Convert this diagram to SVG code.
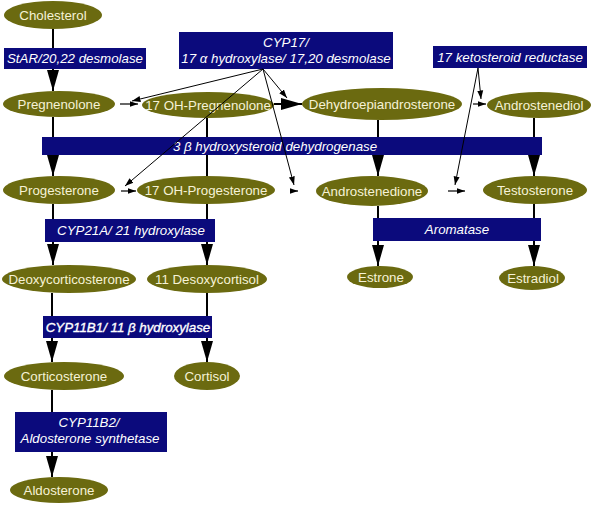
<svg xmlns="http://www.w3.org/2000/svg" width="593" height="526" viewBox="0 0 593 526">
<defs>
<style>
.n ellipse{fill:#6b6a10;}
.n text{font-family:"Liberation Sans",Arial,sans-serif;font-size:13.3px;fill:#f6f2d6;text-anchor:middle;}
.e rect{fill:#0b0a7c;}
.e text{font-family:"Liberation Sans",Arial,sans-serif;font-size:13.3px;font-style:italic;fill:#ffffff;text-anchor:middle;}
.c line{stroke:#000;stroke-width:2;fill:none;}
.c line.s{stroke-width:1.2;}
.c line.t{stroke-width:1;}
</style>
<marker id="big" markerUnits="userSpaceOnUse" markerWidth="22" markerHeight="14" viewBox="0 0 22 14" refX="21" refY="7" orient="auto"><path d="M0,1 L21,7 L0,13 z" fill="#000"/></marker>
<marker id="sm" markerUnits="userSpaceOnUse" markerWidth="9" markerHeight="8" viewBox="0 0 9 8" refX="8.5" refY="4" orient="auto"><path d="M0,1 L8.5,4 L0,7 z" fill="#000"/></marker>
</defs>
<rect width="593" height="526" fill="#fff"/>

<g id="enzymes" class="e">
<g id="e-star"><rect x="4" y="48" width="142" height="21"/><text x="75" y="63">StAR/20,22 desmolase</text></g>
<g id="e-cyp17"><rect x="179" y="32" width="214" height="37"/><text x="286" y="47">CYP17/</text><text x="286" y="63">17 α hydroxylase/ 17,20 desmolase</text></g>
<g id="e-17ksr"><rect x="433" y="46" width="154" height="22"/><text x="510" y="62">17 ketosteroid reductase</text></g>
<g id="e-3bhsd"><rect x="42" y="137" width="500" height="18"/><text x="275" y="151">3 β hydroxysteroid dehydrogenase</text></g>
<g id="e-cyp21"><rect x="45" y="219" width="170" height="23"/><text x="131" y="235">CYP21A/ 21 hydroxylase</text></g>
<g id="e-arom"><rect x="373" y="218" width="168" height="23"/><text x="457" y="234">Aromatase</text></g>
<g id="e-cyp11b1"><rect x="43" y="316" width="169" height="22"/><text x="128" y="332" font-size="14px" stroke="#ffffff" stroke-width="0.35">CYP11B1/ 11 β hydroxylase</text></g>
<g id="e-cyp11b2"><rect x="15" y="412" width="152" height="40"/><text x="89" y="427">CYP11B2/</text><text x="90" y="443">Aldosterone synthetase</text></g>
</g>

<g id="nodes" class="n">
<g id="cholesterol"><ellipse cx="53" cy="15" rx="49" ry="14"/><text x="53" y="20">Cholesterol</text></g>
<g id="pregnenolone"><ellipse cx="59" cy="104" rx="56" ry="13"/><text x="59" y="109">Pregnenolone</text></g>
<g id="oh-pregnenolone"><ellipse cx="208" cy="105" rx="66" ry="13"/><text x="208" y="110">17 OH-Pregnenolone</text></g>
<g id="dhea"><ellipse cx="382" cy="104" rx="80" ry="16"/><text x="382" y="109">Dehydroepiandrosterone</text></g>
<g id="androstenediol"><ellipse cx="539" cy="105" rx="52" ry="13"/><text x="539" y="110">Androstenediol</text></g>
<g id="progesterone"><ellipse cx="59" cy="190" rx="56" ry="14"/><text x="59" y="195">Progesterone</text></g>
<g id="oh-progesterone"><ellipse cx="206" cy="190" rx="69" ry="14"/><text x="206" y="195">17 OH-Progesterone</text></g>
<g id="androstenedione"><ellipse cx="372" cy="191" rx="56" ry="15"/><text x="372" y="196">Androstenedione</text></g>
<g id="testosterone"><ellipse cx="535" cy="190" rx="52" ry="14"/><text x="535" y="195">Testosterone</text></g>
<g id="estrone"><ellipse cx="380" cy="277" rx="33" ry="11"/><text x="381" y="282">Estrone</text></g>
<g id="estradiol"><ellipse cx="532" cy="278" rx="33" ry="12"/><text x="533" y="283">Estradiol</text></g>
<g id="deoxycorticosterone"><ellipse cx="69" cy="279" rx="67" ry="14"/><text x="69" y="284">Deoxycorticosterone</text></g>
<g id="desoxycortisol"><ellipse cx="207" cy="279" rx="60" ry="14"/><text x="207" y="284">11 Desoxycortisol</text></g>
<g id="corticosterone"><ellipse cx="64" cy="376" rx="60" ry="14"/><text x="64" y="381">Corticosterone</text></g>
<g id="cortisol"><ellipse cx="207" cy="376" rx="33" ry="14"/><text x="207" y="381">Cortisol</text></g>
<g id="aldosterone"><ellipse cx="59" cy="490" rx="49" ry="13"/><text x="59" y="495">Aldosterone</text></g>
</g>

<g id="connectors" class="c">
<line x1="53" y1="29" x2="53" y2="48"/><line x1="53" y1="69" x2="53" y2="91" marker-end="url(#big)"/>
<line x1="53" y1="117" x2="53" y2="137"/><line x1="53" y1="155" x2="53" y2="176" marker-end="url(#big)"/>
<line x1="207" y1="118" x2="207" y2="137"/><line x1="207" y1="155" x2="207" y2="176"/>
<line x1="378" y1="120" x2="378" y2="137"/><line x1="378" y1="155" x2="378" y2="176" marker-end="url(#big)"/>
<line x1="534" y1="118" x2="534" y2="137"/><line x1="534" y1="155" x2="534" y2="176" marker-end="url(#big)"/>
<line x1="53" y1="204" x2="53" y2="219"/><line x1="53" y1="242" x2="53" y2="265" marker-end="url(#big)"/>
<line x1="207" y1="204" x2="207" y2="219"/><line x1="207" y1="242" x2="207" y2="265" marker-end="url(#big)"/>
<line x1="378" y1="206" x2="378" y2="218"/><line x1="378" y1="241" x2="378" y2="266" marker-end="url(#big)"/>
<line x1="534" y1="204" x2="534" y2="218"/><line x1="534" y1="241" x2="534" y2="266" marker-end="url(#big)"/>
<line x1="52" y1="293" x2="52" y2="316"/><line x1="52" y1="338" x2="52" y2="362" marker-end="url(#big)"/>
<line x1="207" y1="293" x2="207" y2="316"/><line x1="207" y1="338" x2="207" y2="362" marker-end="url(#big)"/>
<line x1="52" y1="390" x2="52" y2="412"/><line x1="52" y1="452" x2="52" y2="477" marker-end="url(#big)"/>
<line x1="274" y1="104" x2="302" y2="104" marker-end="url(#big)"/>
<line class="s" x1="120" y1="104" x2="138" y2="104" marker-end="url(#sm)"/>
<line class="s" x1="121" y1="191" x2="136" y2="191" marker-end="url(#sm)"/>
<line class="s" x1="290" y1="191" x2="298" y2="191" marker-end="url(#sm)"/>
<line class="s" x1="448" y1="191" x2="465" y2="191" marker-end="url(#sm)"/>
<line class="s" x1="473" y1="104" x2="486" y2="104" marker-end="url(#sm)"/>
<line class="t" x1="263" y1="69" x2="132" y2="101" marker-end="url(#sm)"/>
<line class="t" x1="263" y1="69" x2="287" y2="98" marker-end="url(#sm)"/>
<line class="t" x1="263" y1="69" x2="125" y2="186" marker-end="url(#sm)"/>
<line class="t" x1="263" y1="69" x2="294" y2="185" marker-end="url(#sm)"/>
<line class="t" x1="478" y1="68" x2="481" y2="99" marker-end="url(#sm)"/>
<line class="t" x1="478" y1="68" x2="455" y2="185" marker-end="url(#sm)"/>
</g>
</svg>
